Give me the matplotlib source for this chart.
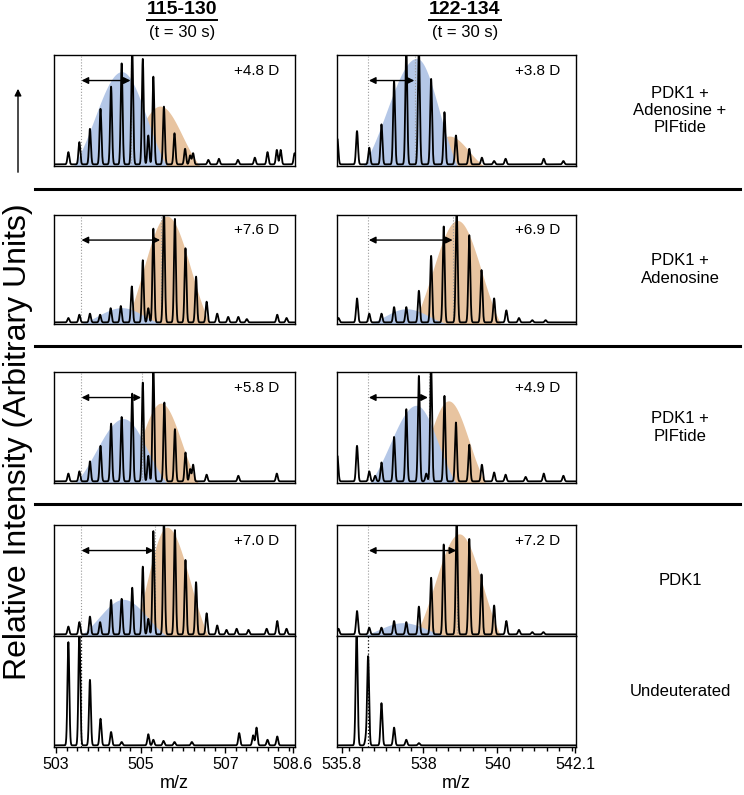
import numpy as np
import matplotlib
matplotlib.use("Agg")
import matplotlib.pyplot as plt
from matplotlib.lines import Line2D
from matplotlib.patches import FancyArrowPatch
from matplotlib.ticker import MultipleLocator, FixedLocator

plt.rcParams['font.family'] = ['Liberation Sans', 'DejaVu Sans']

W, H = 744, 795

peptides = ["115-130", "122-134"]
conditions = ["PDK1 +\nAdenosine +\nPIFtide", "PDK1 +\nAdenosine", "PDK1 +\nPIFtide",
              "PDK1", "Undeuterated"]
charges = [4, 3]
undeut_centroid = [503.58, 536.51]
uptake_115 = [4.8, 7.6, 5.8, 7.0]
uptake_122 = [3.8, 6.9, 4.9, 7.2]
xticks_115 = [503, 505, 507, 508.6]
xticks_122 = [535.8, 538, 540, 542.1]

# --- peptide 115-130, peak lists (m/z, relative height) per row ---
mz_115 = [
    [503.29, 503.55, 503.80, 504.05, 504.30, 504.55, 504.80, 505.05, 505.18, 505.30, 505.55,
     505.80, 506.05, 506.17, 506.24, 506.60, 506.85, 507.30, 507.70, 508.00, 508.22, 508.31, 508.64],
    [503.29, 503.55, 503.80, 504.04, 504.29, 504.53, 504.79, 505.18, 505.05, 505.30, 505.55,
     505.81, 506.06, 506.31, 506.56, 506.81, 507.07, 507.31, 507.51, 508.23, 508.45],
    [503.29, 503.55, 503.80, 504.05, 504.30, 504.55, 504.80, 505.05, 505.18, 505.30, 505.56,
     505.81, 506.06, 506.17, 506.24, 506.56, 507.31, 508.22],
    [503.29, 503.55, 503.80, 504.04, 504.30, 504.55, 504.80, 505.05, 505.18, 505.30, 505.55,
     505.81, 506.06, 506.31, 506.56, 506.81, 507.03, 507.27, 507.55, 507.98, 508.23, 508.45],
    [503.29, 503.55, 503.80, 504.05, 504.30, 504.55, 505.18, 505.30, 505.54, 505.80, 506.21,
     507.33, 507.66, 507.74, 508.00, 508.23],
]
h_115 = [
    [0.11, 0.20, 0.32, 0.50, 0.70, 0.91, 1.05, 0.95, 0.26, 0.79, 0.52,
     0.28, 0.14, 0.08, 0.10, 0.04, 0.05, 0.04, 0.06, 0.11, 0.13, 0.13, 0.10],
    [0.04, 0.07, 0.08, 0.07, 0.13, 0.15, 0.33, 0.13, 0.57, 0.86, 1.05,
     0.95, 0.68, 0.42, 0.19, 0.08, 0.05, 0.05, 0.03, 0.07, 0.04],
    [0.07, 0.09, 0.18, 0.32, 0.52, 0.58, 0.79, 0.89, 0.23, 1.05, 0.71,
     0.47, 0.26, 0.11, 0.15, 0.06, 0.05, 0.07],
    [0.07, 0.11, 0.16, 0.11, 0.31, 0.32, 0.42, 0.61, 0.14, 0.93, 1.05,
     0.94, 0.67, 0.47, 0.19, 0.08, 0.04, 0.05, 0.04, 0.05, 0.12, 0.05],
    [0.93, 1.05, 0.59, 0.24, 0.12, 0.03, 0.10, 0.05, 0.04, 0.03, 0.03,
     0.11, 0.09, 0.16, 0.05, 0.08],
]
# envelopes: (start, apex, end, height)
blue_115 = [(503.41, 504.55, 505.62, 0.85), (503.56, 504.55, 505.50, 0.15),
            (503.45, 504.59, 505.62, 0.58), (503.56, 504.59, 505.62, 0.33)]
orange_115 = [(504.50, 505.46, 506.40, 0.54), (504.63, 505.62, 506.64, 0.99),
              (504.60, 505.48, 506.36, 0.72), (504.79, 505.62, 506.60, 0.98)]

# --- peptide 122-134 ---
mz_122 = [
    [535.68, 536.21, 536.54, 536.87, 537.21, 537.54, 537.88, 538.21, 538.57, 538.88, 539.24,
     539.58, 539.91, 540.22, 541.25, 541.78],
    [535.71, 536.21, 536.54, 536.87, 537.21, 537.54, 537.88, 538.21, 538.55, 538.90, 539.24,
     539.57, 539.91, 540.24, 540.58, 540.94, 541.30],
    [535.68, 536.21, 536.54, 536.70, 536.87, 537.21, 537.54, 537.88, 538.08, 538.21, 538.57,
     538.88, 539.24, 539.58, 539.91, 540.22, 540.76, 541.25, 541.78],
    [535.71, 536.21, 536.54, 536.87, 537.21, 537.54, 537.88, 538.21, 538.55, 538.90, 539.24,
     539.57, 539.91, 540.24, 540.58, 540.94, 541.24],
    [536.20, 536.45, 536.51, 536.87, 537.21, 537.54, 537.88],
]
h_122 = [
    [0.23, 0.30, 0.15, 0.36, 0.75, 1.05, 1.05, 0.77, 0.47, 0.26, 0.14,
     0.06, 0.03, 0.05, 0.05, 0.03],
    [0.04, 0.22, 0.08, 0.08, 0.14, 0.14, 0.29, 0.61, 0.88, 1.05, 0.80,
     0.48, 0.22, 0.11, 0.04, 0.02, 0.02],
    [0.23, 0.32, 0.09, 0.05, 0.17, 0.40, 0.65, 0.95, 0.07, 1.05, 0.77,
     0.53, 0.33, 0.15, 0.08, 0.06, 0.04, 0.07, 0.05],
    [0.05, 0.21, 0.06, 0.06, 0.12, 0.11, 0.25, 0.51, 0.81, 1.05, 0.86,
     0.54, 0.26, 0.12, 0.04, 0.02, 0.02],
    [1.05, 0.06, 0.80, 0.38, 0.16, 0.05, 0.02],
]
blue_122 = [(536.37, 537.82, 538.92, 0.97), (536.51, 537.54, 538.65, 0.14),
            (536.55, 537.81, 538.88, 0.70), (536.33, 537.45, 538.61, 0.12)]
orange_122 = [(537.80, 538.70, 539.64, 0.27), (537.72, 538.92, 540.09, 0.95),
              (537.70, 538.68, 539.68, 0.74), (537.78, 538.97, 540.09, 0.92)]

BLUE = "#b4c7e7"
ORANGE = "#e8c4a0"

# panel geometry in pixels
col_x = [(54, 295), (337, 576)]
row_y = [(55, 166), (215, 324), (372, 483), (525, 636), (636, 747)]
xlims = [(502.95, 508.65), (535.67, 542.12)]
sep_y = [189, 346, 504]


def spectrum(x, mzs, hs, sigma):
    y = np.full_like(x, 0.015)
    for m, h in zip(mzs, hs):
        y += h * np.exp(-0.5 * ((x - m) / sigma) ** 2)
    return y


def envelope(x, env, k=1.6):
    a, c, b, h = env
    u = np.where(x < c, (x - c) / (c - a), (x - c) / (b - c))
    y = h * (np.exp(-k * u ** 2) - np.exp(-k)) / (1 - np.exp(-k))
    y[np.abs(u) > 1] = 0
    return y


fig = plt.figure(figsize=(W / 100, H / 100), dpi=100)

data = [(mz_115, h_115, blue_115, orange_115, uptake_115, xticks_115),
        (mz_122, h_122, blue_122, orange_122, uptake_122, xticks_122)]

for c, (mzs, hs, blues, oranges, uptakes, xt) in enumerate(data):
    x0, x1 = col_x[c]
    xs = np.linspace(xlims[c][0], xlims[c][1], 4000)
    sigma = 0.022 if c == 0 else 0.026
    for r in range(5):
        y0, y1 = row_y[r]
        ax = fig.add_axes([x0 / W, 1 - y1 / H, (x1 - x0) / W, (y1 - y0) / H])
        ax.set_xlim(*xlims[c])
        ax.set_ylim(0, 1)
        if r < 4:
            ax.fill_between(xs, 0, envelope(xs, oranges[r]), color=ORANGE, lw=0, zorder=1)
            ax.fill_between(xs, 0, envelope(xs, blues[r]), color=BLUE, lw=0, zorder=2)
            deut = undeut_centroid[c] + uptakes[r] / charges[c]
            ax.axvline(undeut_centroid[c], color="#9a9a9a", lw=0.8, ls=":", zorder=3)
            ax.axvline(deut, color="#9a9a9a", lw=0.8, ls=":", zorder=3)
            ax.annotate("", xy=(undeut_centroid[c] + 0.02, 0.77), xytext=(deut - 0.02, 0.77),
                        arrowprops=dict(arrowstyle="<|-|>", color="k", lw=1.0,
                                        mutation_scale=10, shrinkA=0, shrinkB=0), zorder=5)
            ax.text(0.935, 0.86, f"+{uptakes[r]:.1f} D", transform=ax.transAxes,
                    ha="right", va="center", fontsize=11)
        else:
            ax.axvline(undeut_centroid[c], color="k", lw=0.9, ls=":", zorder=3)
        ax.plot(xs, spectrum(xs, mzs[r], hs[r], sigma), color="k", lw=1.3, zorder=4)
        for s in ax.spines.values():
            s.set_linewidth(1.0)
        ax.set_yticks([])
        if r == 4:
            ax.xaxis.set_major_locator(FixedLocator(xt))
            ax.set_xticklabels([f"{v:g}" for v in xt], fontsize=11.5)
            ax.xaxis.set_minor_locator(MultipleLocator(0.25 if c == 0 else 1 / 3))
            ax.tick_params(axis="x", which="major", length=4, width=1.0, pad=3)
            ax.tick_params(axis="x", which="minor", length=3, width=1.0)
            ax.set_xlabel("m/z", fontsize=13, labelpad=2)
        else:
            ax.set_xticks([])

    # column title
    cx = (182 if c == 0 else 465) / W
    t = fig.text(cx, 1 - 10 / H, peptides[c], ha="center", va="center",
                 fontsize=14, fontweight="bold")
    fig.text(cx, 1 - 32 / H, "(t = 30 s)", ha="center", va="center", fontsize=12)
    fig.canvas.draw()
    bb = t.get_window_extent().transformed(fig.transFigure.inverted())
    fig.add_artist(Line2D([bb.x0, bb.x1], [1 - 20 / H] * 2, color="k", lw=1.4))

# condition labels
for r in range(5):
    yc = (row_y[r][0] + row_y[r][1]) / 2
    fig.text(680 / W, 1 - yc / H, conditions[r], ha="center", va="center",
             fontsize=12, linespacing=1.2)

# separators between rows
for y in sep_y:
    fig.add_artist(Line2D([35 / W, 740 / W], [1 - y / H] * 2, color="k", lw=2.2))

# y label with arrow
fig.text(18.5 / W, 1 - 442 / H, "Relative Intensity (Arbitrary Units)", rotation=90,
         ha="center", va="center", fontsize=23)
fig.add_artist(FancyArrowPatch(
    (18 / W, 1 - 175 / H), (18 / W, 1 - 86 / H), transform=fig.transFigure,
    arrowstyle="-|>", mutation_scale=10, color="k", lw=1.0))

fig.savefig("out.png", dpi=100)
